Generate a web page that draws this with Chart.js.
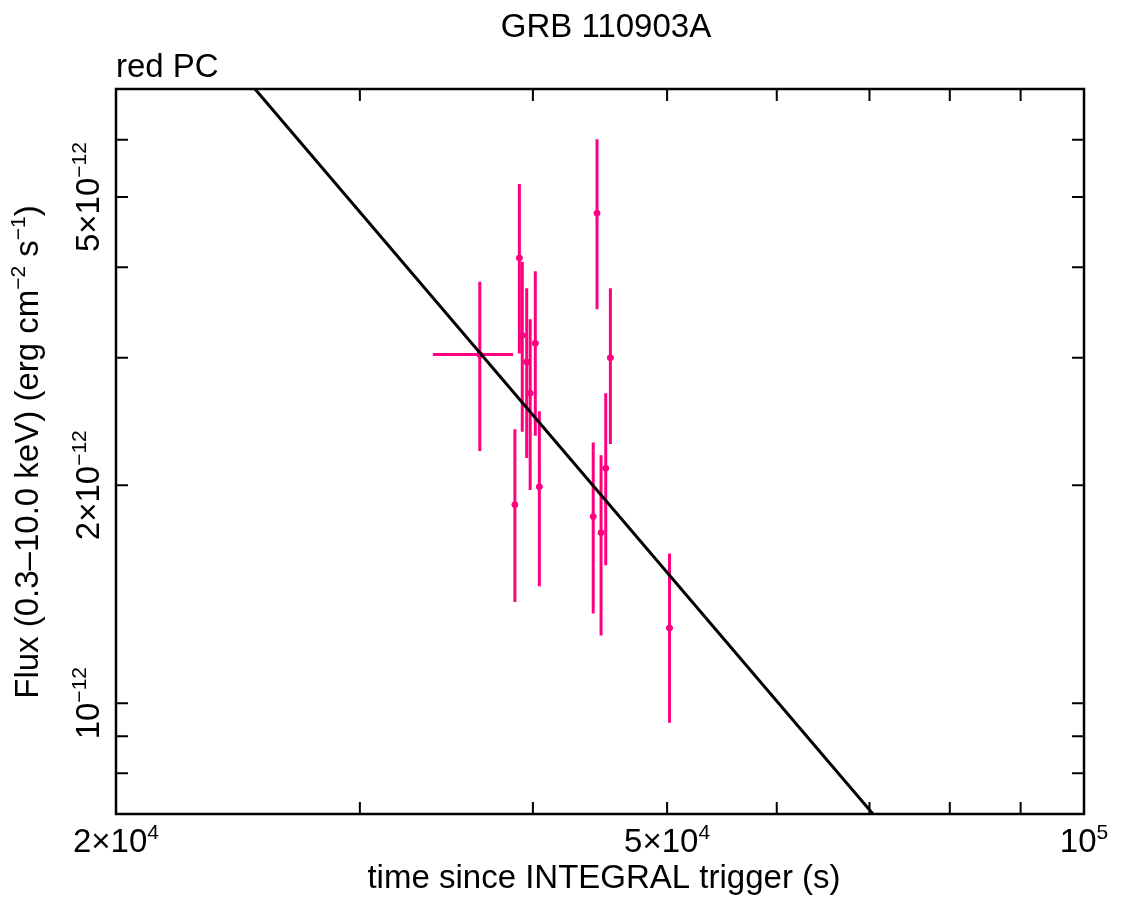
<!DOCTYPE html>
<html>
<head>
<meta charset="utf-8">
<script src="https://cdn.jsdelivr.net/npm/chart.js@4"></script>
<style>
  body { margin: 0; background: #fff; }
  #wrap { width: 1121px; height: 898px; position: relative; }
</style>
</head>
<body>
<div id="wrap"><canvas id="lc"></canvas></div>
<script>
// light curve points (flux in erg cm^-2 s^-1)
const times   = [36620, 39110, 39300, 39590, 39820, 40160, 40430, 38820, 44500, 45500, 45150, 44220, 44800, 50200];
const timeLo  = [33870, 38920, 39110, 39400, 39620, 39960, 40230, 38630, 44280, 45270, 44930, 44000, 44580, 49950];
const timeHi  = [38700, 39300, 39500, 39790, 40020, 40360, 40630, 39010, 44720, 45730, 45380, 44440, 45020, 50450];
const flux    = [3.03e-12, 4.12e-12, 3.22e-12, 2.96e-12, 2.68e-12, 3.14e-12, 1.99e-12, 1.88e-12, 4.75e-12, 3.00e-12, 2.11e-12, 1.81e-12, 1.72e-12, 1.27e-12];
const fluxLo  = [2.23e-12, 3.04e-12, 2.37e-12, 2.18e-12, 1.97e-12, 2.34e-12, 1.45e-12, 1.38e-12, 3.50e-12, 2.28e-12, 1.55e-12, 1.33e-12, 1.24e-12, 0.94e-12];
const fluxHi  = [3.82e-12, 5.21e-12, 4.07e-12, 3.74e-12, 3.39e-12, 3.95e-12, 2.53e-12, 2.39e-12, 6.01e-12, 3.74e-12, 2.68e-12, 2.29e-12, 2.20e-12, 1.61e-12];

// power-law fit line, end points
const modelT = [2e4, 1e5];
const modelF = [1.184e-11, 3.2e-13];

// axes
const xMin = 2e4, xMax = 1e5;
const yMin = 0.703e-12, yMax = 7.05e-12;
const xTickValues = [2e4, 3e4, 4e4, 5e4, 6e4, 7e4, 8e4, 9e4, 1e5];
const xTickLabels = [[['2×10', 0], ['4', 1]], [['5×10', 0], ['4', 1]], [['10', 0], ['5', 1]]];
const xLabelValues = [2e4, 5e4, 1e5];
const yTickValues = [8e-13, 9e-13, 1e-12, 2e-12, 3e-12, 4e-12, 5e-12, 6e-12, 7e-12];
const yLabelValues = [1e-12, 2e-12, 5e-12];
const yTickLabels = [[['10', 0], ['−12', 1]], [['2×10', 0], ['−12', 1]], [['5×10', 0], ['−12', 1]]];

const pink = '#ff0080';
const FONT = "'Liberation Sans', Arial, sans-serif";
const mainSize = 33, supSize = 21, supRaise = 13;

function richWidth(ctx, parts) {
    let w = 0;
    parts.forEach(p => {
        ctx.font = (p[1] ? supSize : mainSize) + 'px ' + FONT;
        w += ctx.measureText(p[0]).width;
    });
    return w;
}

// draw text with superscripts, centred on x, baseline at y, optional rotation
function drawRich(ctx, parts, x, y, rot, align) {
    ctx.save();
    ctx.translate(x, y);
    if (rot) ctx.rotate(rot);
    ctx.fillStyle = '#000';
    ctx.textBaseline = 'alphabetic';
    ctx.textAlign = 'left';
    const w = richWidth(ctx, parts);
    let cx = align === 'left' ? 0 : -w / 2;
    parts.forEach(p => {
        ctx.font = (p[1] ? supSize : mainSize) + 'px ' + FONT;
        ctx.fillText(p[0], cx, p[1] ? -supRaise : 0);
        cx += ctx.measureText(p[0]).width;
    });
    ctx.restore();
}

const overlay = {
    id: 'overlay',
    beforeDatasetsDraw(chart) {
        const ctx = chart.ctx, xs = chart.scales.x, ys = chart.scales.y, a = chart.chartArea;
        ctx.save();
        ctx.beginPath();
        ctx.rect(a.left, a.top, a.right - a.left, a.bottom - a.top);
        ctx.clip();
        ctx.strokeStyle = pink;
        ctx.lineWidth = 3;
        ctx.lineCap = 'butt';
        for (let i = 0; i < times.length; i++) {
            const px = xs.getPixelForValue(times[i]);
            const py = ys.getPixelForValue(flux[i]);
            ctx.beginPath();
            ctx.moveTo(px, ys.getPixelForValue(fluxLo[i]));
            ctx.lineTo(px, ys.getPixelForValue(fluxHi[i]));
            ctx.moveTo(xs.getPixelForValue(timeLo[i]), py);
            ctx.lineTo(xs.getPixelForValue(timeHi[i]), py);
            ctx.stroke();
        }
        ctx.restore();
    },
    afterDraw(chart) {
        const ctx = chart.ctx, xs = chart.scales.x, ys = chart.scales.y, a = chart.chartArea;
        const tickLen = 12;
        ctx.save();
        ctx.strokeStyle = '#000';
        ctx.lineWidth = 2.5;
        ctx.strokeRect(a.left, a.top, a.right - a.left, a.bottom - a.top);
        ctx.lineWidth = 2;
        ctx.beginPath();
        xTickValues.forEach(v => {
            const px = xs.getPixelForValue(v);
            ctx.moveTo(px, a.bottom); ctx.lineTo(px, a.bottom - tickLen);
            ctx.moveTo(px, a.top); ctx.lineTo(px, a.top + tickLen);
        });
        yTickValues.forEach(v => {
            const py = ys.getPixelForValue(v);
            if (py < a.top + 3 || py > a.bottom - 3) return;
            ctx.moveTo(a.left, py); ctx.lineTo(a.left + tickLen, py);
            ctx.moveTo(a.right, py); ctx.lineTo(a.right - tickLen, py);
        });
        ctx.stroke();
        ctx.restore();

        xLabelValues.forEach((v, i) => drawRich(ctx, xTickLabels[i], xs.getPixelForValue(v), 852));
        yLabelValues.forEach((v, i) => drawRich(ctx, yTickLabels[i], 99, ys.getPixelForValue(v), -Math.PI / 2));

        drawRich(ctx, [['GRB 110903A', 0]], 606, 37);
        drawRich(ctx, [['red PC', 0]], 116, 77, 0, 'left');
        drawRich(ctx, [['time since INTEGRAL trigger (s)', 0]], 604, 888);
        drawRich(ctx, [['Flux (0.3–10.0 keV) (erg cm', 0], ['−2', 1], [' s', 0], ['−1', 1], [')', 0]], 38, 452, -Math.PI / 2);
    }
};

const points = times.map((t, i) => ({ x: t, y: flux[i] }));
const model = modelT.map((t, i) => ({ x: t, y: modelF[i] }));

new Chart(document.getElementById('lc'), {
    type: 'scatter',
    data: {
        datasets: [{
            label: 'model',
            data: model,
            showLine: true,
            borderColor: '#000',
            borderWidth: 3,
            pointRadius: 0,
            fill: false
        }, {
            label: 'red PC',
            data: points,
            backgroundColor: pink,
            borderColor: pink,
            pointRadius: 3,
            pointHoverRadius: 3
        }]
    },
    options: {
        responsive: true,
        maintainAspectRatio: false,
        animation: false,
        layout: {
            padding: { left: 116, top: 89, right: 37, bottom: 84 }
        },
        scales: {
            x: {
                type: 'logarithmic',
                min: xMin,
                max: xMax,
                ticks: { display: false },
                grid: { display: false },
                border: { display: false },
                afterFit: s => { s.height = 0; }
            },
            y: {
                type: 'logarithmic',
                min: yMin,
                max: yMax,
                ticks: { display: false },
                grid: { display: false },
                border: { display: false },
                afterFit: s => { s.width = 0; }
            }
        },
        plugins: {
            legend: { display: false },
            tooltip: { enabled: false },
            title: { display: false }
        }
    },
    plugins: [overlay]
});
</script>
</body>
</html>
